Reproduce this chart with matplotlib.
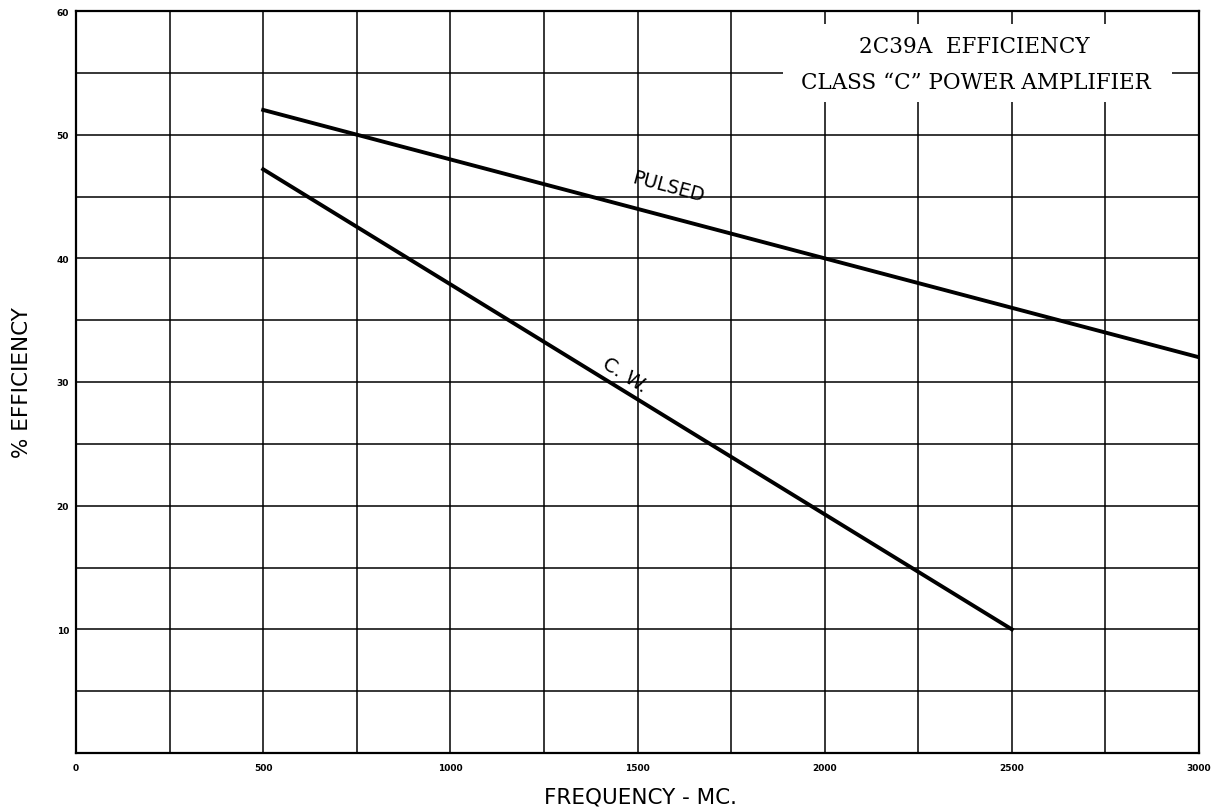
import numpy as np
import matplotlib.pyplot as plt
from matplotlib.patches import Rectangle

# data
pulsed_freq = [500, 3000]
pulsed_eff = [52, 32]
cw_freq = [500, 2500]
cw_eff = [47.2, 10]

x_ticks = [0, 500, 1000, 1500, 2000, 2500, 3000]
y_ticks = [10, 20, 30, 40, 50, 60]

W, H = 1222, 812
fig = plt.figure(figsize=(W / 100, H / 100), dpi=100)
ax = fig.add_axes([76 / W, 1 - 754 / H, 1123 / W, 742 / H])

ax.set_xlim(0, 3000)
ax.set_ylim(0, 60)

# grid every 250 MC and every 5 %
for gx in np.arange(250, 3000, 250):
    ax.axvline(gx, color='black', lw=1.1, zorder=1)
for gy in np.arange(5, 60, 5):
    ax.axhline(gy, color='black', lw=1.1, zorder=1)

ax.plot(pulsed_freq, pulsed_eff, color='black', lw=2.8, zorder=3)
ax.plot(cw_freq, cw_eff, color='black', lw=2.8, zorder=3)

ax.text(1581, 45.8, 'PULSED', rotation=-15, ha='center', va='center',
        fontsize=13.5, family='DejaVu Sans', zorder=4)
ax.text(1467, 30.6, 'C. W.', rotation=-32, ha='center', va='center',
        fontsize=14, family='DejaVu Sans', zorder=4)

# white patch behind the title block
ax.add_patch(Rectangle(((783 - 76) / 1123, (754 - 103) / 742),
                       (1172 - 783) / 1123, (103 - 25) / 742,
                       transform=ax.transAxes, facecolor='white',
                       edgecolor='none', zorder=4))
fig.text(974 / W, 1 - 47 / H, '2C39A  EFFICIENCY', ha='center', va='center',
         fontsize=15.5, family='DejaVu Serif', zorder=5)
fig.text(976 / W, 1 - 83 / H, 'CLASS \u201cC\u201d POWER AMPLIFIER', ha='center',
         va='center', fontsize=15.5, family='DejaVu Serif', zorder=5)

ax.set_xticks(x_ticks)
ax.set_xticklabels([str(t) for t in x_ticks], fontsize=6.5, fontweight='bold')
ax.set_yticks(y_ticks)
ax.set_yticklabels([str(t) for t in y_ticks], fontsize=6.5, fontweight='bold')
ax.tick_params(axis='x', length=0, pad=7)
ax.tick_params(axis='y', length=0, pad=5)

for s in ax.spines.values():
    s.set_linewidth(1.6)

fig.text(640 / W, 1 - 798 / H, 'FREQUENCY - MC.', ha='center', va='center',
         fontsize=15.5)
fig.text(22 / W, 1 - 383 / H, '% EFFICIENCY', ha='center', va='center',
         rotation=90, fontsize=15.5)

fig.savefig('out.png', dpi=100)
